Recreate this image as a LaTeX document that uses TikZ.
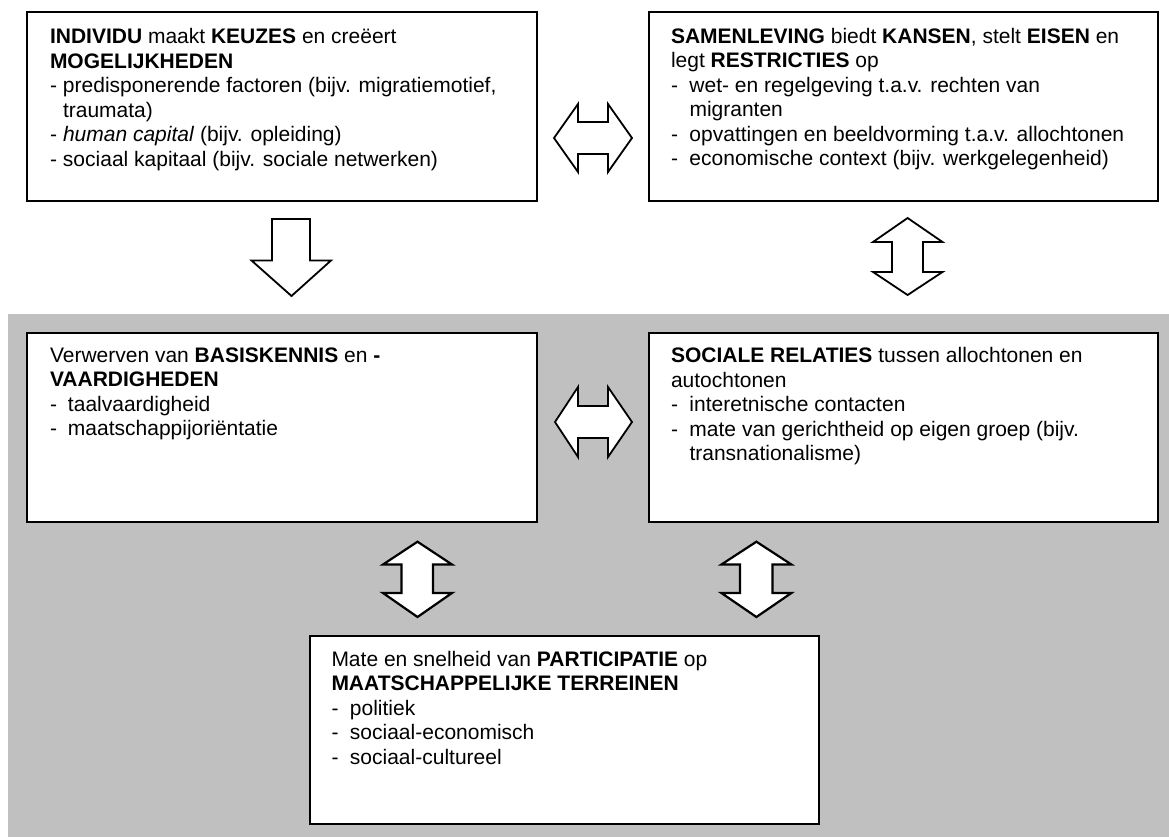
\documentclass[tikz,border=0pt]{standalone}
\usepackage{fontspec}
\setmainfont{Liberation Sans}
\definecolor{bggray}{RGB}{192,192,192}
\newcommand\dashitem[2]{\makebox[#1][l]{-}#2}
\begin{document}
\begin{tikzpicture}[x=1pt,y=-1pt,
  boxstyle/.style={draw=black, line width=2pt, fill=white, rectangle, inner sep=0pt, outer sep=0pt, anchor=north west},
  txt/.style={anchor=base west, inner sep=0pt, outer sep=0pt, font=\fontsize{21pt}{24.5pt}\selectfont},
  blockarrow/.style={draw=black, line width=1.8pt, fill=white, line join=miter},
  blockarrowb/.style={draw=black, line width=2.2pt, fill=white, line join=miter}]
\useasboundingbox (0,0) rectangle (1169,837);
\fill[white] (0,0) rectangle (1169,837);
\fill[bggray] (8,314) rectangle (1169,837);

% boxes
\node[boxstyle, minimum width=510pt, minimum height=189pt] (b1) at (27,12) {};
\node[boxstyle, minimum width=509pt, minimum height=189pt] (b2) at (649,12) {};
\node[boxstyle, minimum width=510pt, minimum height=189pt] (b3) at (27,333) {};
\node[boxstyle, minimum width=509pt, minimum height=189pt] (b4) at (649,333) {};
\node[boxstyle, minimum width=509pt, minimum height=188pt] (b5) at (310,636) {};

% texts
\node[txt] (t1) at (50,44) {\parbox[t]{480pt}{%
\textbf{INDIVIDU} maakt \textbf{KEUZES} en creëert\\
\textbf{MOGELIJKHEDEN}\\
\dashitem{13pt}{predisponerende factoren (bijv. migratiemotief,}\\
\hspace*{13pt}traumata)\\
\dashitem{13pt}{\textit{human capital} (bijv. opleiding)}\\
\dashitem{13pt}{sociaal kapitaal (bijv. sociale netwerken)}}};

\node[txt] (t2) at (671,43.5) {\parbox[t]{480pt}{%
\textbf{SAMENLEVING} biedt \textbf{KANSEN}, stelt \textbf{EISEN} en\\
legt \textbf{RESTRICTIES} op\\
\dashitem{18.5pt}{wet- en regelgeving t.a.v. rechten van}\\
\hspace*{18.5pt}migranten\\
\dashitem{18.5pt}{opvattingen en beeldvorming t.a.v. allochtonen}\\
\dashitem{18.5pt}{economische context (bijv. werkgelegenheid)}}};

\node[txt] (t3) at (50,362) {\parbox[t]{480pt}{%
Verwerven van \textbf{BASISKENNIS} en \textbf{-}\\
\textbf{VAARDIGHEDEN}\\
\dashitem{18pt}{taalvaardigheid}\\
\dashitem{18pt}{maatschappijoriëntatie}}};

\node[txt] (t4) at (671,362.5) {\parbox[t]{480pt}{%
\textbf{SOCIALE RELATIES} tussen allochtonen en\\
autochtonen\\
\dashitem{18.5pt}{interetnische contacten}\\
\dashitem{18.5pt}{mate van gerichtheid op eigen groep (bijv.}\\
\hspace*{18.5pt}transnationalisme)}};

\node[txt] (t5) at (331.5,666) {\parbox[t]{480pt}{%
Mate en snelheid van \textbf{PARTICIPATIE} op\\
\textbf{MAATSCHAPPELIJKE TERREINEN}\\
\dashitem{18.5pt}{politiek}\\
\dashitem{18.5pt}{sociaal-economisch}\\
\dashitem{18.5pt}{sociaal-cultureel}}};

% block arrows
% top horizontal double arrow (b1 <-> b2)
\draw[blockarrow] (554,138) -- (578,104) -- (578,122) -- (608,122) -- (608,104) -- (632,138)
  -- (608,172) -- (608,154) -- (578,154) -- (578,172) -- cycle;
% middle horizontal double arrow (b3 <-> b4)
\draw[blockarrow] (555,422) -- (578,387) -- (578,406) -- (608,406) -- (608,387) -- (632,422)
  -- (608,457) -- (608,438) -- (578,438) -- (578,457) -- cycle;
% down arrow b1 -> b3
\draw[blockarrow] (272,219) -- (310,219) -- (310,260.5) -- (331,260.5) -- (291.5,296)
  -- (251.5,260.5) -- (272,260.5) -- cycle;
% vertical double arrow b2 <-> b4
\draw[blockarrow] (907.6,218) -- (942.5,242) -- (923,242) -- (923,272) -- (942.5,272)
  -- (907.6,295) -- (873,272) -- (892,272) -- (892,242) -- (873,242) -- cycle;
% lower left double arrow b3 <-> b5
\draw[blockarrowb] (417.5,541.7) -- (452,564.5) -- (433,564.5) -- (433,593) -- (452,593)
  -- (417.5,617) -- (383,593) -- (401.5,593) -- (401.5,564.5) -- (383,564.5) -- cycle;
% lower right double arrow b4 <-> b5
\draw[blockarrowb] (756.4,541.7) -- (791.4,564.5) -- (772.5,564.5) -- (772.5,593) -- (791.4,593)
  -- (756.4,617) -- (721.4,593) -- (740,593) -- (740,564.5) -- (721.4,564.5) -- cycle;
\end{tikzpicture}
\end{document}
